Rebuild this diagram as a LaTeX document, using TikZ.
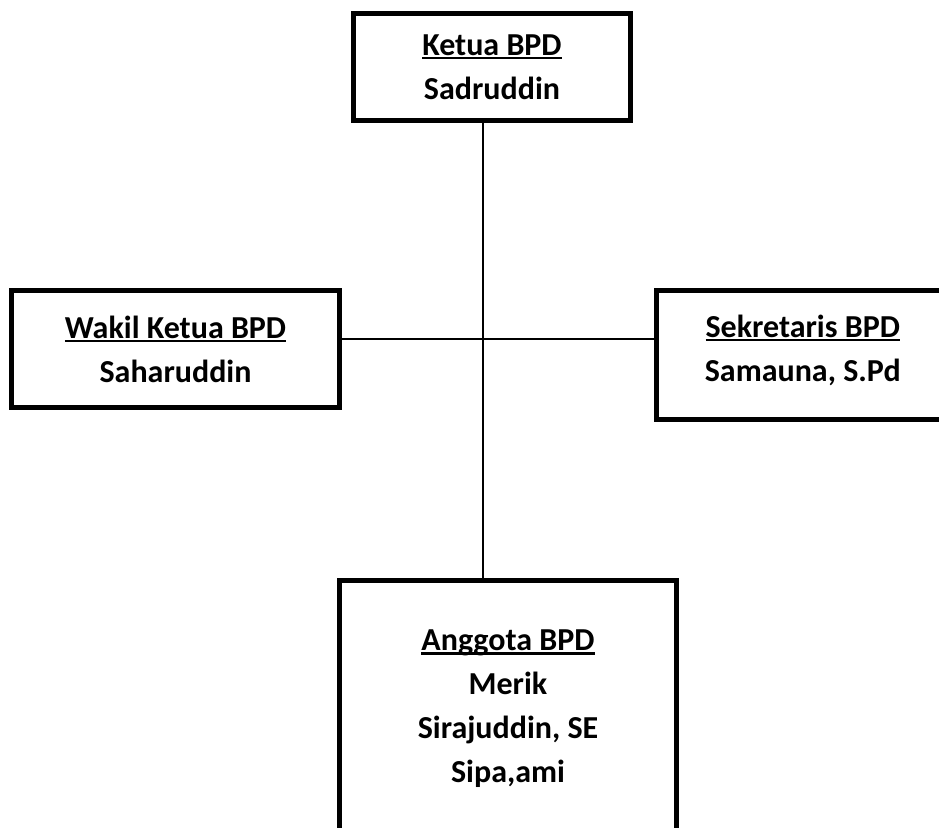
\documentclass[tikz,border=0pt]{standalone}
\usepackage{fontspec}
\setmainfont{Carlito}
\usetikzlibrary{positioning}

\newcommand{\garis}[1]{\leavevmode\setbox0\hbox{#1}\rlap{\rule[-0.13em]{\wd0}{0.07em}}\box0}

\begin{document}
\begin{tikzpicture}[x=0.75pt, y=-0.75pt,
        kotak/.style={draw=black, line width=3.75pt, align=center, inner sep=0pt,
                font=\fontsize{24}{33}\selectfont\bfseries},
        garisan/.style={draw=black, line width=1.1pt}]
        \useasboundingbox (0,0) rectangle (939,828);
        \clip (0,0) rectangle (939,828);
        \coordinate (silang) at (483,339);
        \node[kotak, minimum width=207.75pt, minimum height=80.25pt] (ketua) at (492,67)
                {\garis{Ketua BPD}\\Sadruddin};
        \node[kotak, minimum width=246pt, minimum height=87.75pt] (wakil) at (175.5,349)
                {\garis{Wakil Ketua BPD}\\Saharuddin};
        \node[kotak, minimum width=219.4pt, minimum height=96.75pt] (sekretaris) at (802.75,355)
                {\garis{Sekretaris BPD}\\Samauna, S.Pd\rule[-10.5pt]{0pt}{0pt}};
        \node[kotak, minimum width=252.75pt, minimum height=192pt] (anggota) at (508,708.5)
                {\garis{Anggota BPD}\\Merik\\Sirajuddin, SE\\Sipa,ami};
        \draw[garisan] (ketua.south -| silang) -- (anggota.north -| silang);
        \draw[garisan] (wakil.east |- silang) -- (sekretaris.west |- silang);
    \end{tikzpicture}
\end{document}
